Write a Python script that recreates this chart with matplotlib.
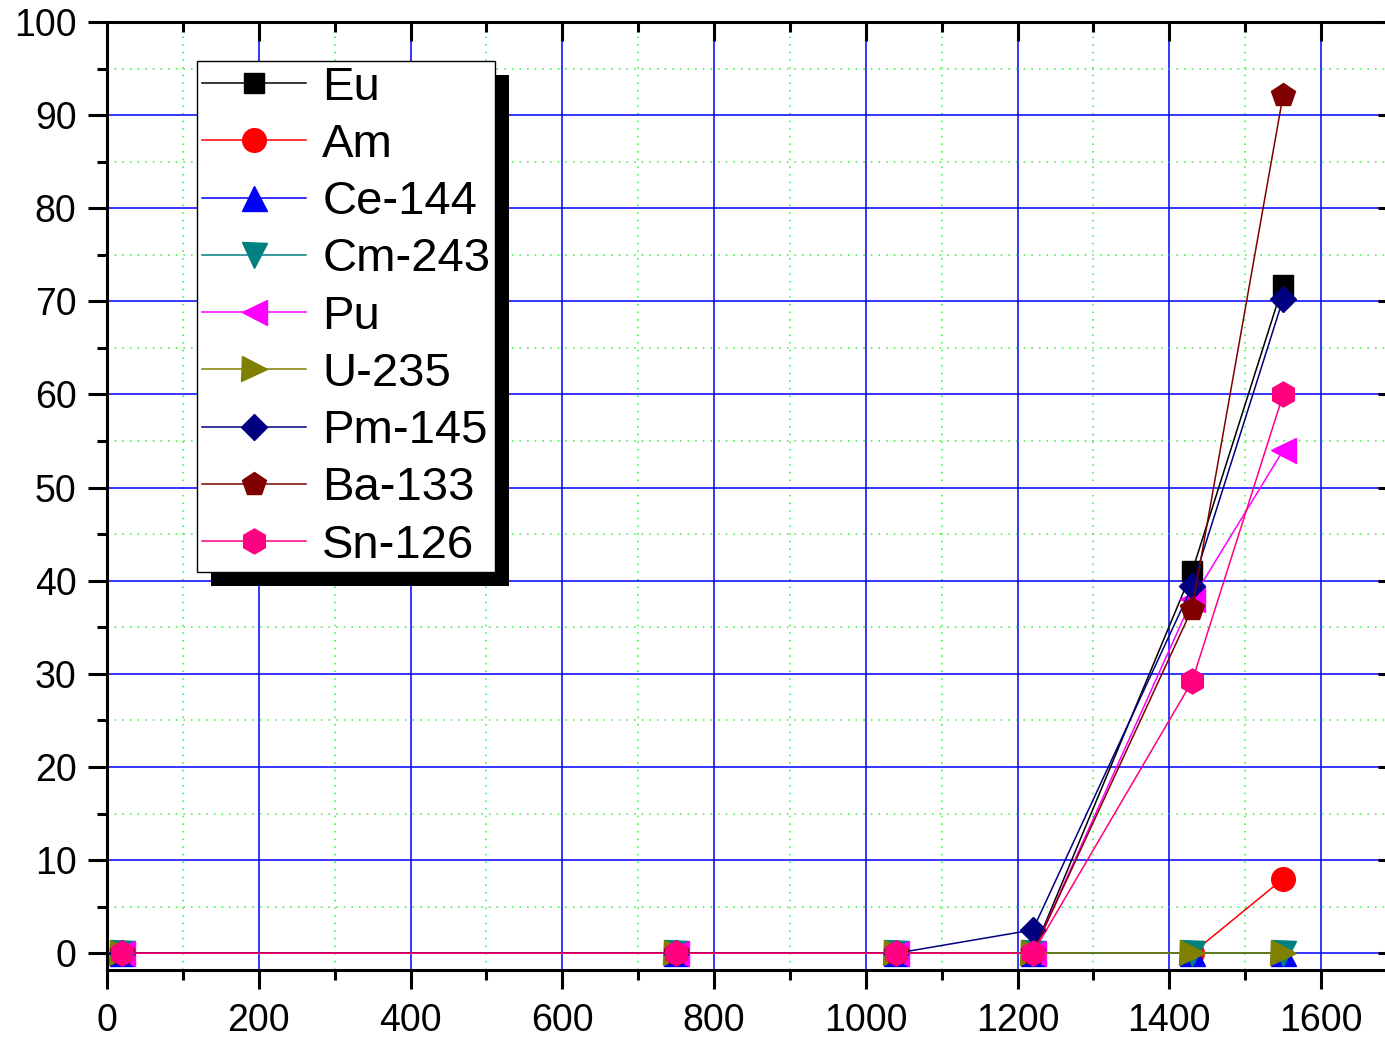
import matplotlib
matplotlib.use("Agg")
import matplotlib.pyplot as plt
from matplotlib.patches import Rectangle
from matplotlib.transforms import IdentityTransform
from matplotlib.ticker import MultipleLocator

plt.rcParams["font.family"] = ["Liberation Sans", "DejaVu Sans"]

# temperatures (x) and release fraction (%) per nuclide
temps = [20, 750, 1040, 1220, 1430, 1550]
eu = [0, 0, 0, 0, 41.0, 71.8]
am = [0, 0, 0, 0, 0, 8.0]
ce144 = [0, 0, 0, 0, 0, 0]
cm243 = [0, 0, 0, 0, 0, 0]
pu = [0, 0, 0, 0, 38.0, 54.0]
u235 = [0, 0, 0, 0, 0, 0]
pm145 = [0, 0, 0, 2.5, 39.4, 70.3]
ba133 = [0, 0, 0, 0, 37.0, 92.2]
sn126 = [0, 0, 0, 0, 29.2, 60.0]

series = [
    ("Eu", eu, "#000000", "s", 14),
    ("Am", am, "#FF0000", "o", 17),
    ("Ce-144", ce144, "#0000FF", "^", 18),
    ("Cm-243", cm243, "#008080", "v", 18),
    ("Pu", pu, "#FF00FF", "<", 18),
    ("U-235", u235, "#808000", ">", 18),
    ("Pm-145", pm145, "#000080", "D", 13),
    ("Ba-133", ba133, "#800000", "p", 18),
    ("Sn-126", sn126, "#FF0080", "h", 18),
]

fig = plt.figure(figsize=(13.85, 10.4), dpi=100)
ax = fig.add_axes([107 / 1385, 1 - 970 / 1040, (1397 - 107) / 1385, (970 - 22) / 1040])

for name, vals, col, mk, ms in series:
    ax.plot(temps, vals, color=col, marker=mk, markersize=ms, lw=1.1,
            markeredgecolor=col, label=name)

ax.set_xlim(0, 1700)
ax.set_ylim(-1.8, 100)
ax.xaxis.set_major_locator(MultipleLocator(200))
ax.xaxis.set_minor_locator(MultipleLocator(100))
ax.yaxis.set_major_locator(MultipleLocator(10))
ax.yaxis.set_minor_locator(MultipleLocator(5))

ax.set_axisbelow(True)
ax.grid(which="major", color="#0000FF", lw=1.1, ls="-")
ax.grid(which="minor", color="#33EE33", lw=1.1, ls=(0, (1, 4)))

for s in ax.spines.values():
    s.set_linewidth(2.2)

ax.tick_params(which="major", direction="out", length=14, width=2.2,
               labelsize=27)
ax.tick_params(axis="x", which="major", pad=10)
ax.tick_params(axis="y", which="major", pad=8)
ax.tick_params(which="minor", direction="out", length=7, width=2.2)
ax.tick_params(which="both", top=True, right=True)
# top and right ticks point inward, as in the original plot
for t in ax.xaxis.get_major_ticks() + ax.xaxis.get_minor_ticks():
    t.tick2line.set_marker(3)
for t in ax.yaxis.get_major_ticks() + ax.yaxis.get_minor_ticks():
    t.tick2line.set_marker(0)

leg = ax.legend(loc="upper left", bbox_to_anchor=(90 / 1290, (970 - 61) / 948),
                borderaxespad=0, fontsize=34, fancybox=False, framealpha=1,
                edgecolor="black", handlelength=2.2, handletextpad=0.35,
                labelspacing=0.28, borderpad=0.1)
leg.get_frame().set_linewidth(1.0)

fig.canvas.draw()
bb = leg.get_window_extent()
shadow = Rectangle((bb.x0 + 14, bb.y0 - 14), bb.width, bb.height,
                   transform=IdentityTransform(), facecolor="black",
                   edgecolor="none", zorder=4.9)
ax.add_artist(shadow)

fig.savefig("out.png", dpi=100)
